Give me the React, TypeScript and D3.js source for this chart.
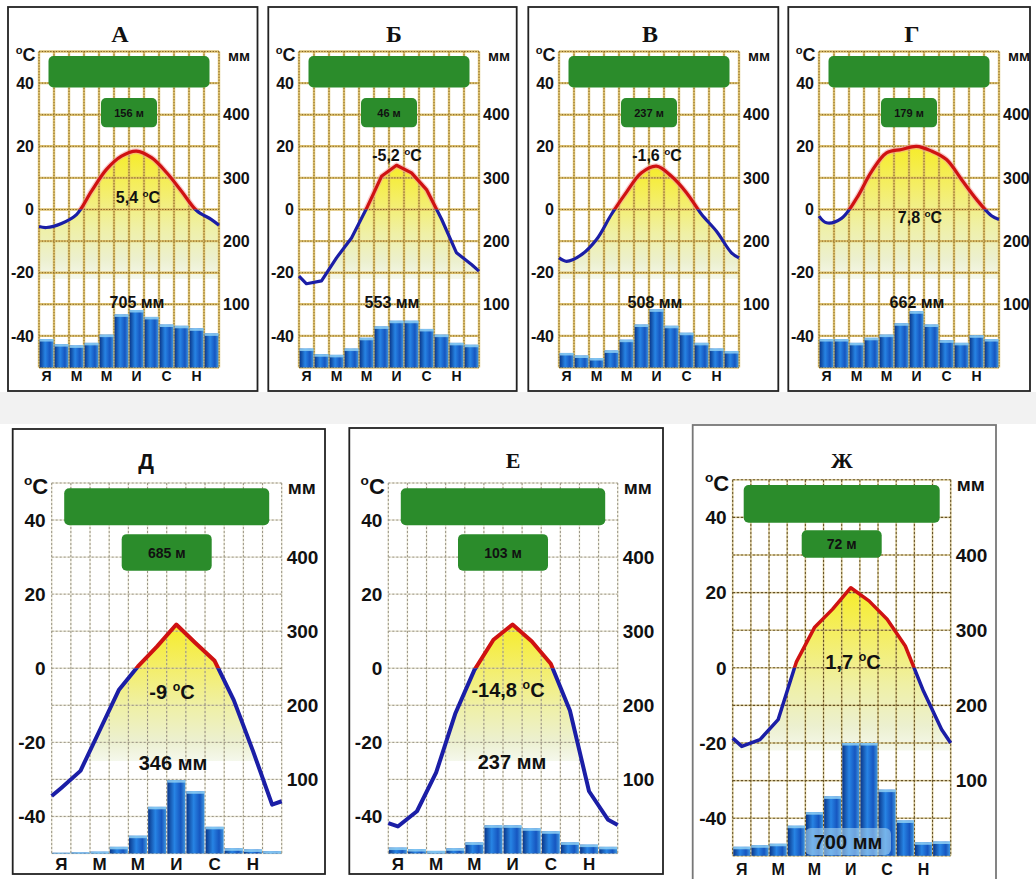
import React from "react";
import * as d3 from "d3";

// ---------- data ----------
const TITLES = ["А", "Б", "В", "Г", "Д", "Е", "Ж"];
const ELEVATIONS = ["156 м", "46 м", "237 м", "179 м", "685 м", "103 м", "72 м"];
const MEAN_TEMPS = ["5,4", "-5,2", "-1,6", "7,8", "-9", "-14,8", "1,7"];
const TOTALS = ["705 мм", "553 мм", "508 мм", "662 мм", "346 мм", "237 мм", "700 мм"];

const MONTH_TICKS = ["Я", "М", "М", "И", "С", "Н"];
const MONTH_TICK_INDEX = [0, 2, 4, 6, 8, 10];
const TEMP_TICKS = [40, 20, 0, -20, -40];
const PREC_TICKS = [400, 300, 200, 100];

// monthly mean temperature, °C (Jan..Dec)
const TEMP_A = [-5.7, -4.4, -1.6, 5.8, 12.7, 16.9, 18.5, 16.4, 11.7, 5.8, -0.3, -3.2];
const TEMP_B = [-23.5, -22.6, -15.3, -9.0, 0.3, 10.5, 14.0, 11.6, 6.3, -3.0, -13.7, -17.4];
const TEMP_V = [-16.4, -14.3, -9.5, -1.5, 5.5, 11.6, 13.7, 10.5, 5.3, -1.5, -6.9, -13.7];
const TEMP_G = [-4.2, -2.8, 3.5, 12.0, 17.9, 19.0, 20.0, 18.5, 15.8, 9.5, 3.2, -2.0];
const TEMP_D = [-32.3, -27.7, -16.8, -5.9, 0.5, 5.9, 11.8, 6.8, 2.0, -8.6, -22.3, -36.8];
const TEMP_E = [-42.7, -38.6, -28.2, -12.3, -0.5, 7.7, 11.8, 7.3, 1.2, -11.4, -33.2, -40.9];
const TEMP_ZH = [-20.9, -19.1, -13.8, 1.5, 10.7, 15.6, 21.3, 17.8, 12.9, 5.8, -6.2, -16.4];

// temperature where the curve meets the left / right frame
const EDGE_A = [-5.4, -5.0];
const EDGE_B = [-21.1, -19.5];
const EDGE_V = [-15.3, -15.3];
const EDGE_G = [-2.1, -3.2];
const EDGE_D = [-34.5, -35.9];
const EDGE_E = [-41.8, -42.3];
const EDGE_ZH = [-18.7, -20.0];

// monthly precipitation, mm (Jan..Dec)
const PREC_A = [45, 37, 35, 39, 52, 84, 91, 80, 68, 66, 62, 54];
const PREC_B = [30, 21, 20, 30, 47, 65, 74, 74, 61, 52, 39, 36];
const PREC_V = [23, 19, 15, 27, 44, 68, 92, 66, 55, 39, 30, 26];
const PREC_G = [45, 45, 39, 47, 52, 70, 89, 68, 43, 39, 51, 45];
const PREC_D = [1, 1.5, 2.5, 9, 24, 63, 99, 84, 36, 7, 5.5, 3];
const PREC_E = [8, 6, 3.5, 7, 15, 38, 38, 34, 30, 15, 12, 9];
const PREC_ZH = [12, 14, 16, 40, 58, 79, 150, 150, 88, 47, 18, 19];

const TEMPS = [TEMP_A, TEMP_B, TEMP_V, TEMP_G, TEMP_D, TEMP_E, TEMP_ZH];
const EDGES = [EDGE_A, EDGE_B, EDGE_V, EDGE_G, EDGE_D, EDGE_E, EDGE_ZH];
const PRECS = [PREC_A, PREC_B, PREC_V, PREC_G, PREC_D, PREC_E, PREC_ZH];

// ---------- layout (pixels) ----------
type Row = {
  tick: number; unit: number; title: number; annot: number; elev: number; month: number;
  line: number; inset: number; tickGap: number; unitGap: number;
};
const TOP: Row = { tick: 16, unit: 15, title: 24, annot: 16, elev: 11, month: 14, line: 3.2, inset: 9.5, tickGap: 4, unitGap: 9 };
const BOT: Row = { tick: 19, unit: 19, title: 22, annot: 20, elev: 14, month: 17, line: 4, inset: 12.5, tickGap: 5, unitGap: 6 };

type Layout = {
  box: number[]; plot: number[]; titleX: number; titleY: number; serif: boolean;
  mean: number[]; total: number[]; monthY: number; grid: string; smooth: boolean;
  small: number[]; smallW: number; base: number; row: Row; frame: string; totalBox?: boolean;
};

const LAYOUTS: Layout[] = [
  { box: [8, 7, 257.5, 391], plot: [39, 219, 51.5, 367.5], titleX: 120, titleY: 42, serif: true, mean: [138, 203], total: [137, 308], monthY: 380.5, grid: "top", smooth: true, small: [35.3, 26], smallW: 56, base: -22, row: TOP, frame: "#222" },
  { box: [268.3, 7, 516.7, 391], plot: [299, 479, 51.5, 367.5], titleX: 394, titleY: 42, serif: true, mean: [397, 161], total: [392, 308], monthY: 380.5, grid: "top", smooth: false, small: [35.3, 26], smallW: 56, base: -22, row: TOP, frame: "#222" },
  { box: [528.3, 7, 778.3, 391], plot: [559, 739, 51.5, 367.5], titleX: 650, titleY: 42, serif: true, mean: [657, 161], total: [655, 308], monthY: 380.5, grid: "top", smooth: true, small: [35.3, 26], smallW: 56, base: -22, row: TOP, frame: "#222" },
  { box: [788.3, 7, 1030, 391], plot: [819, 999, 51.5, 367.5], titleX: 912, titleY: 42, serif: true, mean: [920, 223], total: [917, 308], monthY: 380.5, grid: "top", smooth: true, small: [35.3, 26], smallW: 56, base: -22, row: TOP, frame: "#222" },
  { box: [12.7, 429, 325, 874], plot: [51.7, 281.7, 483, 853.5], titleX: 146, titleY: 469, serif: false, mean: [172, 699], total: [173, 770], monthY: 870, grid: "gray", smooth: false, small: [36.2, 26.3], smallW: 90, base: -25, row: BOT, frame: "#222" },
  { box: [349.3, 428, 663, 874], plot: [388.3, 617.7, 483, 853.5], titleX: 513, titleY: 468, serif: true, mean: [508, 697], total: [512, 769], monthY: 870, grid: "gray", smooth: false, small: [36.2, 26.3], smallW: 90, base: -25, row: BOT, frame: "#222" },
  { box: [692.7, 425, 996, 900], plot: [732.7, 950.7, 479.8, 855.8], titleX: 842, titleY: 468, serif: true, mean: [853, 669], total: [848, 849], monthY: 874.5, grid: "brown", smooth: false, small: [36.6, 29.3], smallW: 80, base: -22, row: { ...BOT, line: 3.5, inset: 11, month: 16 }, frame: "#777", totalBox: true },
];

const SANS = "'Liberation Sans', Arial, Helvetica, sans-serif";
const SERIF = "'Liberation Serif', 'Times New Roman', serif";
const BLUE = "#1b1ea6";
const RED = "#cf1212";
const GREEN = "#2b8c2b";

function Deg({ x, y, pre, fs, anchor }: { x: number; y: number; pre: string; fs: number; anchor: string }) {
  return (
    <text x={x} y={y} fontSize={fs} fontFamily={SANS} fontWeight="bold" textAnchor={anchor} fill="#111">
      <tspan>{pre}</tspan>
      <tspan fontSize={fs * 0.62} dy={-fs * 0.38}>o</tspan>
      <tspan dy={fs * 0.38}>C</tspan>
    </text>
  );
}

function Grid({ L, x, yT }: { L: Layout; x: any; yT: any }) {
  const [l, r, t, b] = L.plot;
  const vs = d3.range(0, 13).map((k) => x(k));
  const hs = d3.range(-50, 51, 10).map((v) => yT(v));
  const lines = (stroke: string, w: number, dash?: string, op = 1) => (
    <g stroke={stroke} strokeWidth={w} strokeDasharray={dash} opacity={op} fill="none">
      {vs.map((vx, k) => <line key={"v" + k} x1={vx} x2={vx} y1={t} y2={b} />)}
      {hs.map((hy, k) => <line key={"h" + k} x1={l} x2={r} y1={hy} y2={hy} />)}
    </g>
  );
  if (L.grid === "top") {
    return <g>{lines("#dcbd62", 2.4, undefined, 0.9)}{lines("#76561a", 1, "1.3 1.5", 0.9)}</g>;
  }
  if (L.grid === "brown") {
    return <g>{lines("#e3d08c", 1.8, undefined, 0.7)}{lines("#5e4a1e", 1.1, "2.5 1.5", 0.95)}</g>;
  }
  return <g>{lines("#d9d2b0", 1.4, undefined, 0.5)}{lines("#8f8a7c", 1, "2 2", 0.9)}</g>;
}

function Panel({ i }: { i: number }) {
  const L = LAYOUTS[i];
  const R = L.row;
  const [l, r, t, b] = L.plot;
  const x = d3.scaleLinear().domain([0, 12]).range([l, r]);
  const yT = d3.scaleLinear().domain([-50, 50]).range([b, t]);
  const yP = d3.scaleLinear().domain([0, 500]).range([b, t]);
  const temps = TEMPS[i];
  const edges = EDGES[i];
  const prec = PRECS[i];
  const pts: [number, number][] = [[0, edges[0]], ...temps.map((v, k) => [k + 0.5, v] as [number, number]), [12, edges[1]]];
  const curve = L.smooth ? d3.curveCatmullRom.alpha(0.5) : d3.curveLinear;
  const line = d3.line<[number, number]>().x((d) => x(d[0])).y((d) => yT(d[1])).curve(curve);
  const area = d3.area<[number, number]>().x((d) => x(d[0])).y0(yT(-50)).y1((d) => yT(d[1])).curve(curve);
  const peak = d3.max(temps) as number;
  const id = "p" + i;
  const [bx0, by0, bx1, by1] = L.box;
  const cx = (l + r) / 2;
  const top = R === TOP;

  return (
    <g>
      <rect x={bx0} y={by0} width={bx1 - bx0} height={by1 - by0} fill="#fff" stroke={L.frame} strokeWidth={1.8} />
      <defs>
        <linearGradient id={id + "fill"} gradientUnits="userSpaceOnUse" x1={0} x2={0} y1={yT(peak)} y2={yT(L.base)}>
          <stop offset="0" stopColor="#f6ec2a" />
          <stop offset="0.3" stopColor="#f4ee66" />
          <stop offset="0.6" stopColor="#eff0a6" />
          <stop offset="0.85" stopColor="#ecf0cf" />
          <stop offset="1" stopColor="#f5f8ec" />
        </linearGradient>
        <clipPath id={id + "base"}>
          <rect x={l} y={t} width={r - l} height={yT(L.base) - t} />
        </clipPath>
        <clipPath id={id + "warm"}>
          <rect x={l - 5} y={t - 20} width={r - l + 10} height={yT(0) - t + 20} />
        </clipPath>
        <clipPath id={id + "cold"}>
          <rect x={l - 5} y={yT(0)} width={r - l + 10} height={b - yT(0) + 20} />
        </clipPath>
      </defs>

      {/* fill under temperature curve */}
      <path d={area(pts) as string} fill={`url(#${id}fill)`} clipPath={`url(#${id}base)`} />

      <Grid L={L} x={x} yT={yT} />

      {/* precipitation bars */}
      {prec.map((p, k) => {
        const x0 = x(k) + 0.6;
        const w = x(k + 1) - x(k) - 1.2;
        const y0 = yP(p);
        return (
          <g key={k}>
            <rect x={x0} y={y0} width={w} height={yP(0) - y0} fill="url(#barGrad)" />
            <rect x={x0} y={y0} width={w} height={Math.min(2.5, yP(0) - y0)} fill="#8fd0f5" opacity={0.85} />
          </g>
        );
      })}

      {/* temperature line */}
      {top && (
        <path d={line(pts) as string} fill="none" stroke="#f3a0a0" strokeWidth={R.line + 2.5} opacity={0.55} clipPath={`url(#${id}warm)`} strokeLinejoin="round" />
      )}
      <path d={line(pts) as string} fill="none" stroke={RED} strokeWidth={R.line} clipPath={`url(#${id}warm)`} strokeLinejoin="round" />
      <path d={line(pts) as string} fill="none" stroke={BLUE} strokeWidth={R.line} clipPath={`url(#${id}cold)`} strokeLinejoin="round" />

      {/* green boxes */}
      <rect x={l + R.inset} y={yT(48.6)} width={r - l - 2 * R.inset} height={yT(38.6) - yT(48.6)} rx={5} fill={GREEN} />
      <rect x={cx - L.smallW / 2} y={yT(L.small[0])} width={L.smallW} height={yT(L.small[1]) - yT(L.small[0])} rx={5} fill={GREEN} />
      <text x={cx} y={(yT(L.small[0]) + yT(L.small[1])) / 2} dy="0.36em" fontSize={R.elev} fontFamily={SANS} fontWeight="bold" textAnchor="middle" fill="#111">
        {ELEVATIONS[i]}
      </text>

      {/* title */}
      <text x={L.titleX} y={L.titleY} fontSize={R.title} fontFamily={L.serif ? SERIF : SANS} fontWeight="bold" textAnchor="middle" fill="#111">
        {TITLES[i]}
      </text>

      {/* axes labels */}
      <Deg x={l - 3.5} y={t + 4 + R.unit * 0.36} pre="" fs={R.unit + 3} anchor="end" />
      <text x={r + R.unitGap} y={t + 4} dy="0.36em" fontSize={R.unit} fontFamily={SANS} fontWeight="bold" fill="#111">мм</text>
      {TEMP_TICKS.map((v) => (
        <text key={v} x={l - R.tickGap - 1} y={yT(v)} dy="0.36em" fontSize={R.tick} fontFamily={SANS} fontWeight="bold" textAnchor="end" fill="#111">
          {v}
        </text>
      ))}
      {PREC_TICKS.map((v) => (
        <text key={v} x={r + R.tickGap} y={yP(v)} dy="0.36em" fontSize={R.tick} fontFamily={SANS} fontWeight="bold" textAnchor="start" fill="#111">
          {v}
        </text>
      ))}
      {MONTH_TICKS.map((m, k) => (
        <text key={k} x={x(MONTH_TICK_INDEX[k] + 0.5)} y={L.monthY} fontSize={R.month} fontFamily={SANS} fontWeight="bold" textAnchor="middle" fill="#111">
          {m}
        </text>
      ))}

      {/* annotations */}
      <Deg x={L.mean[0]} y={L.mean[1]} pre={MEAN_TEMPS[i] + " "} fs={R.annot} anchor="middle" />
      {L.totalBox && (
        <rect x={L.total[0] - 43} y={L.total[1] - 21} width={86} height={27} rx={6} fill="#a9d6f2" opacity={0.6} />
      )}
      <text x={L.total[0]} y={L.total[1]} fontSize={R.annot} fontFamily={SANS} fontWeight="bold" textAnchor="middle" fill="#111">
        {TOTALS[i]}
      </text>
    </g>
  );
}

export default function App() {
  return (
    <svg width={1036} height={879} viewBox="0 0 1036 879" style={{ position: "absolute", left: 0, top: 0, display: "block", background: "#fff" }}>
      <defs>
        <linearGradient id="barGrad" x1="0" x2="1" y1="0" y2="0">
          <stop offset="0" stopColor="#0a378a" />
          <stop offset="0.4" stopColor="#2784e4" />
          <stop offset="0.75" stopColor="#1656c0" />
          <stop offset="1" stopColor="#3f96e0" />
        </linearGradient>
      </defs>
      <rect x={0} y={392} width={1036} height={32} fill="#f2f2f2" />
      {LAYOUTS.map((_, i) => <Panel key={i} i={i} />)}
    </svg>
  );
}
